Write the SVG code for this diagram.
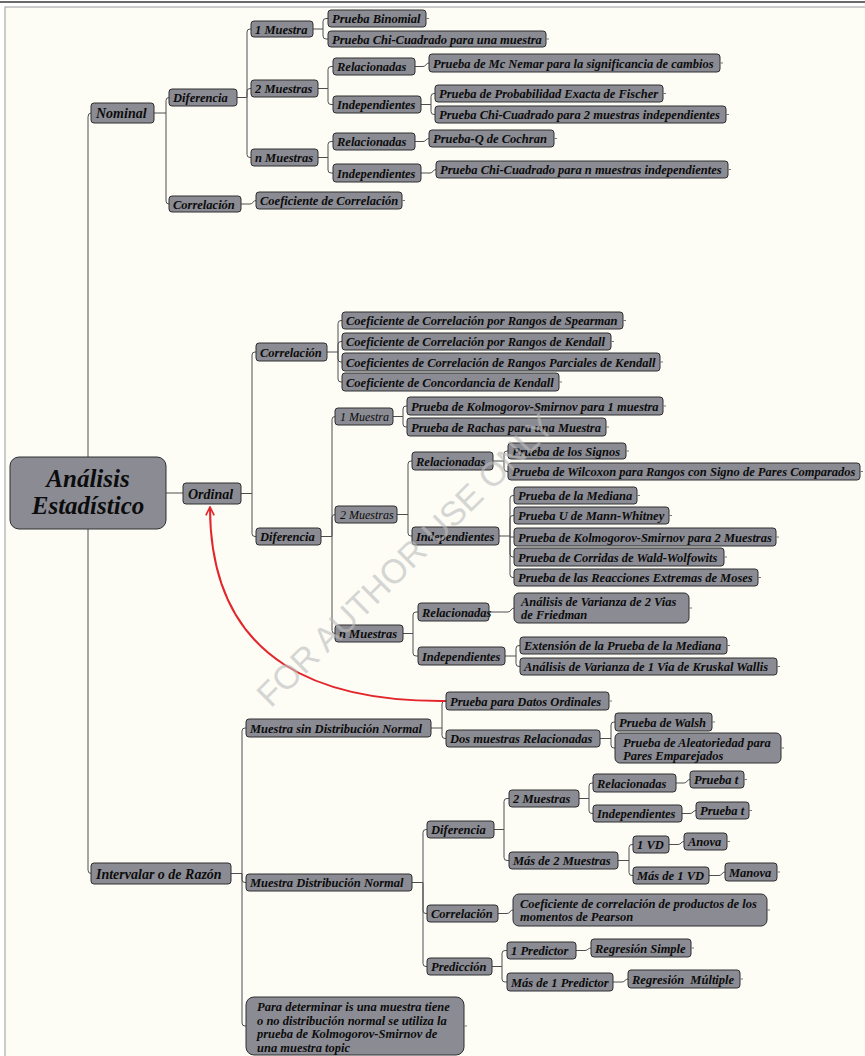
<svg xmlns="http://www.w3.org/2000/svg" width="865" height="1056" viewBox="0 0 865 1056">
  <style>
    .node rect { fill: #8a8b93; stroke: #2e2e30; stroke-width: 1; }
    .node text { font-family: "Liberation Serif", "Times New Roman", serif; font-weight: bold; font-style: italic; font-size: 12.5px; fill: #0c0c0c; }
    .node text.lite { font-weight: normal; font-size: 12px; }
    .node text.big { font-size: 14px; }
    .node text.root { font-size: 25px; text-anchor: middle; }
    .stub { fill: none; stroke: #777; stroke-width: 1; }
    .conn path { fill: none; stroke: #4e4e50; stroke-width: 1; }
    .link { fill: none; stroke: #e3262b; stroke-width: 2; }
    .mark { font-family: "Liberation Sans", Arial, sans-serif; font-size: 34px; fill: #bcbcbc; opacity: 0.6; }
  </style>
  <defs>
    <marker id="arrow" viewBox="0 0 12 12" refX="11" refY="6" markerWidth="10" markerHeight="10" markerUnits="userSpaceOnUse" orient="auto">
      <path d="M1,1 L11,6 L1,11" fill="none" stroke="#e3262b" stroke-width="2"/>
    </marker>
  </defs>

  <!-- page and frame -->
  <rect x="0" y="0" width="865" height="1056" fill="#ffffff"/>
  <rect x="5" y="7" width="862" height="1052" fill="#fdfdf6" stroke="#9a9a9a" stroke-width="1"/>
  <line x1="0" y1="2" x2="865" y2="2" stroke="#3a3a3a" stroke-width="1.5"/>

  <!-- connectors -->
  <g id="connectors" class="conn">
    <path d="M88,457 V117 Q88,113 91,113"/>
    <path d="M88,529 V870 Q88,873.5 91,873.5"/>
    <path d="M166,493 H183"/>
    <!-- Nominal -->
    <path d="M154,113 H166"/>
    <path d="M166,113 V100.5 Q166,97.5 169,97.5"/>
    <path d="M166,113 V201 Q166,204 169,204"/>
    <path d="M237,97.5 H247"/>
    <path d="M247,97.5 V32 Q247,29 250,29 H251"/>
    <path d="M247,97.5 V91.5 Q247,88.5 250,88.5 H251"/>
    <path d="M247,97.5 V154.5 Q247,157.5 250,157.5 H251"/>
    <path d="M313,29 H323"/>
    <path d="M323,29 V21.5 Q323,18.5 326,18.5 H328"/>
    <path d="M323,29 V36 Q323,39 326,39 H328"/>
    <path d="M318,88.5 H328"/>
    <path d="M328,88.5 V69.5 Q328,66.5 331,66.5 H333"/>
    <path d="M328,88.5 V101.5 Q328,104.5 331,104.5 H333"/>
    <path d="M318,157.5 H328"/>
    <path d="M328,157.5 V144.5 Q328,141.5 331,141.5 H333"/>
    <path d="M328,157.5 V170 Q328,173 331,173 H333"/>
    <path d="M415,66.5 H423 C426,66.5 426,63 429,63"/>
    <path d="M421,104.5 H431"/>
    <path d="M431,104.5 V96.5 Q431,93.5 434,93.5 H435"/>
    <path d="M431,104.5 V111.5 Q431,114.5 434,114.5 H435"/>
    <path d="M415,141.5 H423 C426,141.5 426,138.5 429,138.5"/>
    <path d="M421,173 H430 C433,173 433,169.5 436,169.5"/>
    <path d="M241,204 H250 C253,204 253,200.5 256,200.5"/>
    <!-- Ordinal -->
    <path d="M241,493.5 H252"/>
    <path d="M252,493.5 V355 Q252,352 255,352 H256"/>
    <path d="M252,493.5 V533.5 Q252,536.5 255,536.5 H256"/>
    <path d="M327,352 H338"/>
    <path d="M338,352 V323.5 Q338,320.5 341,320.5 H342"/>
    <path d="M338,352 V344.5 Q338,341.5 341,341.5 H342"/>
    <path d="M338,352 V359 Q338,362 341,362 H342"/>
    <path d="M338,352 V379 Q338,382 341,382 H342"/>
    <path d="M321,536.5 H332"/>
    <path d="M332,536.5 V419.5 Q332,416.5 335,416.5"/>
    <path d="M332,536.5 V517.5 Q332,514.5 335,514.5"/>
    <path d="M332,536.5 V630.5 Q332,633.5 335,633.5"/>
    <path d="M393,416.5 H403"/>
    <path d="M403,416.5 V409 Q403,406 406,406 H407"/>
    <path d="M403,416.5 V424 Q403,427 406,427 H407"/>
    <path d="M397,514.5 H408"/>
    <path d="M408,514.5 V464 Q408,461 411,461 H412"/>
    <path d="M408,514.5 V533 Q408,536 411,536 H412"/>
    <path d="M493,461 H504"/>
    <path d="M504,461 V454 Q504,451 507,451 H508"/>
    <path d="M504,461 V468.5 Q504,471.5 507,471.5 H508"/>
    <path d="M499,536 H510"/>
    <path d="M510,536 V498.5 Q510,495.5 513,495.5 H514"/>
    <path d="M510,536 V518.5 Q510,515.5 513,515.5 H514"/>
    <path d="M510,537 H514"/>
    <path d="M510,536 V554 Q510,557 513,557 H514"/>
    <path d="M510,536 V574.5 Q510,577.5 513,577.5 H514"/>
    <path d="M403,633.5 H413"/>
    <path d="M413,633.5 V615 Q413,612 416,612 H418"/>
    <path d="M413,633.5 V653 Q413,656 416,656 H418"/>
    <path d="M489,612 H508 C511,612 511,608 514,608"/>
    <path d="M505,656 H516"/>
    <path d="M516,656 V648.5 Q516,645.5 519,645.5 H520"/>
    <path d="M516,656 V663.5 Q516,666.5 519,666.5 H520"/>
    <!-- Intervalar o de Razón -->
    <path d="M231,873.5 H242"/>
    <path d="M242,873.5 V731 Q242,728 245,728 H246"/>
    <path d="M242,873.5 V879.5 Q242,882.5 245,882.5 H246"/>
    <path d="M242,873.5 V1023 Q242,1026 245,1026 H246"/>
    <path d="M431,728 H442"/>
    <path d="M442,728 V704 Q442,701 445,701 H446"/>
    <path d="M442,728 V735.5 Q442,738.5 445,738.5 H446"/>
    <path d="M600,738.5 H611"/>
    <path d="M611,738.5 V725 Q611,722 614,722 H615"/>
    <path d="M611,738.5 V745 Q611,748 614,748 H615"/>
    <path d="M412,882.5 H423"/>
    <path d="M423,882.5 V832.5 Q423,829.5 426,829.5 H427"/>
    <path d="M423,882.5 V910.5 Q423,913.5 426,913.5 H427"/>
    <path d="M423,882.5 V963.5 Q423,966.5 426,966.5 H427"/>
    <path d="M494,829.5 H504"/>
    <path d="M504,829.5 V801.5 Q504,798.5 507,798.5 H509"/>
    <path d="M504,829.5 V857.5 Q504,860.5 507,860.5 H509"/>
    <path d="M579,798.5 H589"/>
    <path d="M589,798.5 V786 Q589,783 592,783 H593"/>
    <path d="M589,798.5 V810.5 Q589,813.5 592,813.5 H593"/>
    <path d="M676,783 H684 C687,783 687,779.5 690,779.5"/>
    <path d="M682,813.5 H690 C693,813.5 693,810.5 696,810.5"/>
    <path d="M618,860.5 H629"/>
    <path d="M629,860.5 V847.5 Q629,844.5 632,844.5 H633"/>
    <path d="M629,860.5 V872.5 Q629,875.5 632,875.5 H633"/>
    <path d="M669,844.5 H678 C681,844.5 681,841.5 684,841.5"/>
    <path d="M709,875.5 H719 C722,875.5 722,872 725,872"/>
    <path d="M498,913.5 H507 C510,913.5 510,910 513,910"/>
    <path d="M492,966.5 H502"/>
    <path d="M502,966.5 V953.5 Q502,950.5 505,950.5 H507"/>
    <path d="M502,966.5 V979 Q502,982 505,982 H507"/>
    <path d="M576,950.5 H585 C588,950.5 588,948 591,948"/>
    <path d="M613,982 H622 C625,982 625,979 628,979"/>
  </g>

  <!-- cross link -->
  <path id="link-ordinal" class="link" d="M446,701 C330,702 210,668 210,507" marker-end="url(#arrow)"/>

  <!-- root -->
  <g id="n-root" class="node">
    <rect x="10" y="457" width="156" height="72" rx="9"/>
    <text class="root" x="88" y="487">Análisis</text>
    <text class="root" x="88" y="514">Estadístico</text>
  </g>

  <!-- Nominal branch -->
  <g id="n-nominal" class="node"><rect x="91" y="103" width="63" height="20" rx="3"/><text class="big" x="96" y="118">Nominal</text></g>
  <g id="n-nom-dif" class="node"><rect x="169" y="89" width="68" height="17" rx="3"/><text x="173" y="102">Diferencia</text></g>
  <g id="n-nom-cor" class="node"><rect x="169" y="196" width="72" height="16" rx="3"/><text x="173" y="208.5">Correlación</text></g>
  <g id="n-nom-1m" class="node"><rect x="251" y="21" width="62" height="16" rx="3"/><text x="255" y="33.5">1 Muestra</text></g>
  <g id="n-nom-2m" class="node"><rect x="251" y="80" width="67" height="17" rx="3"/><text x="255" y="93">2 Muestras</text></g>
  <g id="n-nom-nm" class="node"><rect x="251" y="149" width="67" height="17" rx="3"/><text x="255" y="162">n Muestras</text></g>
  <g id="n-binomial" class="node"><rect x="328" y="10" width="98" height="17" rx="3"/><text x="332" y="23">Prueba Binomial</text><path class="stub" d="M426,18.5 h3"/></g>
  <g id="n-chi-1" class="node"><rect x="328" y="31" width="218" height="16" rx="3"/><text x="332" y="43.5">Prueba Chi-Cuadrado para una muestra</text><path class="stub" d="M546,39 h3"/></g>
  <g id="n-nom-2m-rel" class="node"><rect x="333" y="58" width="82" height="17" rx="3"/><text x="337" y="71">Relacionadas</text></g>
  <g id="n-nom-2m-ind" class="node"><rect x="333" y="96" width="88" height="17" rx="3"/><text x="337" y="109">Independientes</text></g>
  <g id="n-nom-nm-rel" class="node"><rect x="333" y="133" width="82" height="17" rx="3"/><text x="337" y="146">Relacionadas</text></g>
  <g id="n-nom-nm-ind" class="node"><rect x="333" y="164" width="88" height="18" rx="3"/><text x="337" y="177.5">Independientes</text></g>
  <g id="n-mcnemar" class="node"><rect x="429" y="54" width="291" height="18" rx="3"/><text x="433" y="67.5">Prueba de Mc Nemar para la significancia de cambios</text><path class="stub" d="M720,63 h3"/></g>
  <g id="n-fischer" class="node"><rect x="435" y="85" width="228" height="17" rx="3"/><text x="439" y="98">Prueba de Probabilidad Exacta de Fischer</text><path class="stub" d="M663,93.5 h3"/></g>
  <g id="n-chi-2" class="node"><rect x="435" y="106" width="291" height="17" rx="3"/><text x="439" y="119">Prueba Chi-Cuadrado para 2 muestras independientes</text><path class="stub" d="M726,114.5 h3"/></g>
  <g id="n-cochran" class="node"><rect x="429" y="130" width="125" height="17" rx="3"/><text x="433" y="143">Prueba-Q de Cochran</text><path class="stub" d="M554,138.5 h3"/></g>
  <g id="n-chi-n" class="node"><rect x="436" y="161" width="292" height="17" rx="3"/><text x="440" y="174">Prueba Chi-Cuadrado para n muestras independientes</text><path class="stub" d="M728,169.5 h3"/></g>
  <g id="n-coef-cor" class="node"><rect x="256" y="192" width="146" height="17" rx="3"/><text x="260" y="205">Coeficiente de Correlación</text><path class="stub" d="M402,200.5 h3"/></g>

  <!-- Ordinal branch -->
  <g id="n-ordinal" class="node"><rect x="183" y="483" width="58" height="21" rx="3"/><text class="big" x="188" y="498.5">Ordinal</text></g>
  <g id="n-ord-cor" class="node"><rect x="256" y="343" width="71" height="18" rx="3"/><text x="260" y="356.5">Correlación</text></g>
  <g id="n-ord-dif" class="node"><rect x="256" y="528" width="65" height="17" rx="3"/><text x="260" y="541">Diferencia</text></g>
  <g id="n-spearman" class="node"><rect x="342" y="312" width="281" height="17" rx="3"/><text x="346" y="325">Coeficiente de Correlación por Rangos de Spearman</text><path class="stub" d="M623,320.5 h3"/></g>
  <g id="n-kendall" class="node"><rect x="342" y="333" width="269" height="17" rx="3"/><text x="346" y="346">Coeficiente de Correlación por Rangos de Kendall</text><path class="stub" d="M611,341.5 h3"/></g>
  <g id="n-kendall-parc" class="node"><rect x="342" y="353" width="318" height="18" rx="3"/><text x="346" y="366.5">Coeficientes de Correlación de Rangos Parciales de Kendall</text><path class="stub" d="M660,362 h3"/></g>
  <g id="n-concordancia" class="node"><rect x="342" y="373" width="217" height="18" rx="3"/><text x="346" y="386.5">Coeficiente de Concordancia de Kendall</text><path class="stub" d="M559,382 h3"/></g>
  <g id="n-ord-1m" class="node"><rect x="335" y="408" width="58" height="17" rx="3"/><text class="lite" x="340" y="420.5">1 Muestra</text></g>
  <g id="n-ord-2m" class="node"><rect x="335" y="506" width="62" height="17" rx="3"/><text class="lite" x="340" y="518.5">2 Muestras</text></g>
  <g id="n-ord-nm" class="node"><rect x="335" y="625" width="68" height="17" rx="3"/><text x="339" y="638">n Muestras</text></g>
  <g id="n-ks-1" class="node"><rect x="407" y="397" width="256" height="18" rx="3"/><text x="411" y="410.5">Prueba de Kolmogorov-Smirnov para 1 muestra</text><path class="stub" d="M663,406 h3"/></g>
  <g id="n-rachas" class="node"><rect x="407" y="418" width="199" height="18" rx="3"/><text x="411" y="431.5">Prueba de Rachas para una Muestra</text><path class="stub" d="M606,427 h3"/></g>
  <g id="n-ord-2m-rel" class="node"><rect x="412" y="452" width="81" height="18" rx="3"/><text x="416" y="465.5">Relacionadas</text></g>
  <g id="n-ord-2m-ind" class="node"><rect x="412" y="527" width="87" height="18" rx="3"/><text x="416" y="540.5">Independientes</text></g>
  <g id="n-signos" class="node"><rect x="508" y="443" width="118" height="16" rx="3"/><text x="512" y="455.5">Prueba de los Signos</text><path class="stub" d="M626,451 h3"/></g>
  <g id="n-wilcoxon" class="node"><rect x="508" y="463" width="352" height="17" rx="3"/><text x="512" y="476">Prueba de Wilcoxon para Rangos con Signo de Pares Comparados</text><path class="stub" d="M860,471.5 h3"/></g>
  <g id="n-mediana" class="node"><rect x="514" y="487" width="123" height="17" rx="3"/><text x="518" y="500">Prueba de la Mediana</text><path class="stub" d="M637,495.5 h3"/></g>
  <g id="n-mann" class="node"><rect x="514" y="507" width="155" height="17" rx="3"/><text x="518" y="520">Prueba U de Mann-Whitney</text><path class="stub" d="M669,515.5 h3"/></g>
  <g id="n-ks-2" class="node"><rect x="514" y="528" width="262" height="18" rx="3"/><text x="518" y="541.5">Prueba de Kolmogorov-Smirnov para 2 Muestras</text><path class="stub" d="M776,537 h3"/></g>
  <g id="n-wald" class="node"><rect x="514" y="548" width="210" height="18" rx="3"/><text x="518" y="561.5">Prueba de Corridas de Wald-Wolfowits</text><path class="stub" d="M724,557 h3"/></g>
  <g id="n-moses" class="node"><rect x="514" y="569" width="244" height="17" rx="3"/><text x="518" y="582">Prueba de las Reacciones Extremas de Moses</text><path class="stub" d="M758,577.5 h3"/></g>
  <g id="n-ord-nm-rel" class="node"><rect x="418" y="603" width="71" height="18" rx="3"/><text x="422" y="616.5">Relacionadas</text></g>
  <g id="n-ord-nm-ind" class="node"><rect x="418" y="647" width="87" height="18" rx="3"/><text x="422" y="660.5">Independientes</text></g>
  <g id="n-friedman" class="node"><rect x="514" y="593" width="175" height="30" rx="5"/><text x="521" y="606">Análisis de Varianza de 2 Vias</text><text x="521" y="619">de Friedman</text><path class="stub" d="M689,608 h3"/></g>
  <g id="n-ext-mediana" class="node"><rect x="520" y="637" width="207" height="17" rx="3"/><text x="524" y="650">Extensión de la Prueba de la Mediana</text><path class="stub" d="M727,645.5 h3"/></g>
  <g id="n-kruskal" class="node"><rect x="520" y="658" width="257" height="17" rx="3"/><text x="524" y="671">Análisis de Varianza de 1 Via de Kruskal Wallis</text><path class="stub" d="M777,666.5 h3"/></g>

  <!-- Intervalar o de Razón branch -->
  <g id="n-intervalar" class="node"><rect x="91" y="863" width="140" height="21" rx="3"/><text class="big" x="96" y="878.5">Intervalar o de Razón</text></g>
  <g id="n-sin-normal" class="node"><rect x="246" y="719" width="185" height="18" rx="3"/><text x="250" y="732.5">Muestra sin Distribución Normal</text></g>
  <g id="n-normal" class="node"><rect x="246" y="874" width="166" height="17" rx="3"/><text x="250" y="887">Muestra Distribución Normal</text></g>
  <g id="n-nota" class="node"><rect x="246" y="997" width="218" height="58" rx="8"/><text x="257" y="1011">Para determinar is una muestra tiene</text><text x="257" y="1024.5">o no distribución normal se utiliza la</text><text x="257" y="1038">prueba de Kolmogorov-Smirnov de</text><text x="257" y="1051.5">una muestra topic</text><path class="stub" d="M464,1026 h3"/></g>
  <g id="n-datos-ord" class="node"><rect x="446" y="692" width="163" height="18" rx="3"/><text x="450" y="705.5">Prueba para Datos Ordinales</text><path class="stub" d="M609,701 h3"/></g>
  <g id="n-dos-rel" class="node"><rect x="446" y="730" width="154" height="17" rx="3"/><text x="450" y="743">Dos muestras Relacionadas</text></g>
  <g id="n-walsh" class="node"><rect x="615" y="713" width="97" height="18" rx="3"/><text x="619" y="726.5">Prueba de Walsh</text><path class="stub" d="M712,722 h3"/></g>
  <g id="n-aleatoriedad" class="node"><rect x="615" y="733" width="166" height="30" rx="5"/><text x="623" y="746.5">Prueba de Aleatoriedad para</text><text x="623" y="759.5">Pares Emparejados</text><path class="stub" d="M781,748 h3"/></g>
  <g id="n-int-dif" class="node"><rect x="427" y="821" width="67" height="17" rx="3"/><text x="431" y="834">Diferencia</text></g>
  <g id="n-int-cor" class="node"><rect x="427" y="905" width="71" height="17" rx="3"/><text x="431" y="918">Correlación</text></g>
  <g id="n-prediccion" class="node"><rect x="427" y="958" width="65" height="17" rx="3"/><text x="431" y="971">Predicción</text></g>
  <g id="n-int-2m" class="node"><rect x="509" y="790" width="70" height="17" rx="3"/><text x="513" y="803">2 Muestras</text></g>
  <g id="n-int-mas2" class="node"><rect x="509" y="852" width="109" height="17" rx="3"/><text x="513" y="865">Más de 2 Muestras</text></g>
  <g id="n-int-rel" class="node"><rect x="593" y="774" width="83" height="18" rx="3"/><text x="597" y="787.5">Relacionadas</text></g>
  <g id="n-int-ind" class="node"><rect x="593" y="805" width="89" height="17" rx="3"/><text x="597" y="818">Independientes</text></g>
  <g id="n-t-rel" class="node"><rect x="690" y="771" width="54" height="17" rx="3"/><text x="694" y="784">Prueba t</text><path class="stub" d="M744,779.5 h3"/></g>
  <g id="n-t-ind" class="node"><rect x="696" y="802" width="53" height="17" rx="3"/><text x="700" y="815">Prueba t</text><path class="stub" d="M749,810.5 h3"/></g>
  <g id="n-1vd" class="node"><rect x="633" y="836" width="36" height="17" rx="3"/><text x="637" y="849">1 VD</text></g>
  <g id="n-mas1vd" class="node"><rect x="633" y="867" width="76" height="17" rx="3"/><text x="637" y="880">Más de 1 VD</text></g>
  <g id="n-anova" class="node"><rect x="684" y="833" width="43" height="17" rx="3"/><text x="688" y="846">Anova</text><path class="stub" d="M727,841.5 h3"/></g>
  <g id="n-manova" class="node"><rect x="725" y="863" width="52" height="18" rx="3"/><text x="729" y="876.5">Manova</text><path class="stub" d="M777,872 h3"/></g>
  <g id="n-pearson" class="node"><rect x="513" y="894" width="254" height="32" rx="6"/><text x="520" y="908">Coeficiente de correlación de productos de los</text><text x="520" y="921">momentos de Pearson</text><path class="stub" d="M767,910 h3"/></g>
  <g id="n-1pred" class="node"><rect x="507" y="942" width="69" height="17" rx="3"/><text x="511" y="955">1 Predictor</text></g>
  <g id="n-mas1pred" class="node"><rect x="507" y="973" width="106" height="18" rx="3"/><text x="511" y="986.5">Más de 1 Predictor</text></g>
  <g id="n-reg-simple" class="node"><rect x="591" y="939" width="100" height="18" rx="3"/><text x="595" y="952.5">Regresión Simple</text><path class="stub" d="M691,948 h3"/></g>
  <g id="n-reg-multiple" class="node"><rect x="628" y="970" width="112" height="18" rx="3"/><text x="632" y="983.5" xml:space="preserve">Regresión  Múltiple</text><path class="stub" d="M740,979 h3"/></g>

  <!-- watermark -->
  <text class="mark" x="405" y="572" text-anchor="middle" textLength="400" lengthAdjust="spacingAndGlyphs" transform="rotate(-44.5 405 560)">FOR AUTHOR USE ONLY</text>
</svg>
